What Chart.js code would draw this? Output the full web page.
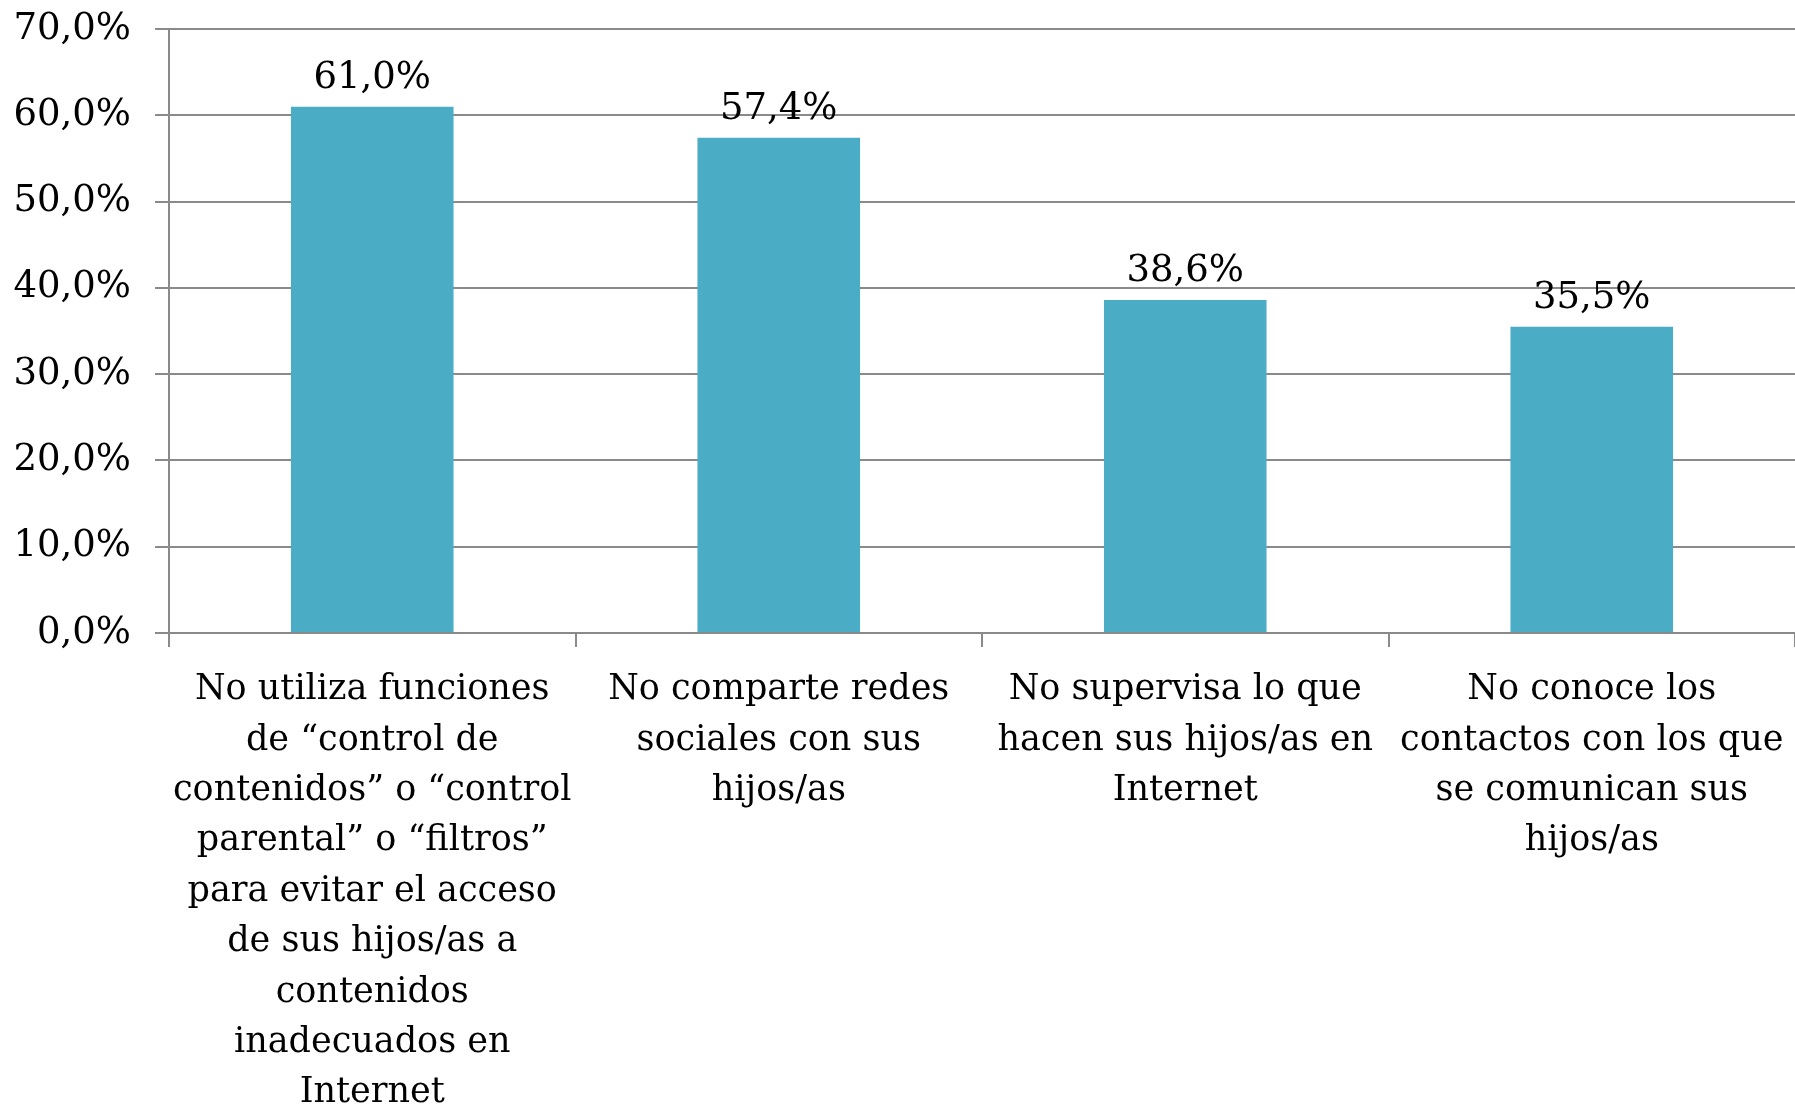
<!DOCTYPE html>
<html>
<head>
<meta charset="utf-8">
<script src="https://cdn.jsdelivr.net/npm/chart.js@4.4.1/dist/chart.umd.min.js"></script>
<style>
    html, body { margin: 0; padding: 0; background: #fff; }
    #chartWrapper { width: 1795px; height: 1106px; }
</style>
</head>
<body>
<div id="chartWrapper"><canvas id="chart" width="1795" height="1106"></canvas></div>
<script>
'use strict';

// Data
const categories = [
    ['No utiliza funciones', 'de “control de', 'contenidos” o “control', 'parental” o “filtros”',
        'para evitar el acceso', 'de sus hijos/as a', 'contenidos', 'inadecuados en', 'Internet'],
    ['No comparte redes', 'sociales con sus', 'hijos/as'],
    ['No supervisa lo que', 'hacen sus hijos/as en', 'Internet'],
    ['No conoce los', 'contactos con los que', 'se comunican sus', 'hijos/as'],
];
const percentValues = [61.0, 57.4, 38.6, 35.5];
const yTickMin = 0;
const yTickMax = 70;
const yTickStep = 10;

const fontFamily = '"DejaVu Serif", serif';
const fontSize = 35;
const numberFontSize = 37;
const gridColor = '#8a8a8a';
const barColor = '#4bacc6';

const formatPercent = function (value) {
    return value.toFixed(1).replace('.', ',') + '%';
};

// Draw the value above each bar
const barValueLabels = {
    id: 'barValueLabels',
    afterDatasetsDraw(chart) {
        const ctx = chart.ctx;
        const meta = chart.getDatasetMeta(0);
        ctx.save();
        ctx.font = `${numberFontSize}px ${fontFamily}`;
        ctx.fillStyle = '#000';
        ctx.textAlign = 'center';
        ctx.textBaseline = 'alphabetic';
        meta.data.forEach((bar, i) => {
            ctx.fillText(formatPercent(percentValues[i]), bar.x, bar.y - 19);
        });
        ctx.restore();
    },
};

Chart.defaults.font.family = fontFamily;
Chart.defaults.font.size = fontSize;
Chart.defaults.color = '#000';

new Chart(document.getElementById('chart'), {
    type: 'bar',
    data: {
        labels: categories,
        datasets: [
            {
                data: percentValues,
                backgroundColor: barColor,
                borderWidth: 0,
                barPercentage: 0.4,
                categoryPercentage: 1,
            },
        ],
    },
    options: {
        responsive: false,
        animation: false,
        devicePixelRatio: 1,
        layout: {
            padding: { top: 29, left: 0, right: -4, bottom: 0 },
        },
        plugins: {
            legend: { display: false },
            tooltip: { enabled: false },
        },
        scales: {
            x: {
                grid: {
                    display: true,
                    drawOnChartArea: false,
                    drawTicks: true,
                    tickLength: 14,
                    color: gridColor,
                    lineWidth: 2,
                },
                border: { display: true, color: gridColor, width: 2 },
                ticks: {
                    padding: 18,
                    maxRotation: 0,
                    autoSkip: false,
                    font: { size: fontSize, lineHeight: 1.44 },
                },
                afterFit: function (scale) {
                    scale.height = 473;
                    scale.paddingRight = -4;
                },
            },
            y: {
                min: yTickMin,
                max: yTickMax,
                grid: {
                    color: gridColor,
                    lineWidth: 2,
                    tickLength: 14,
                },
                border: { display: true, color: gridColor, width: 2 },
                ticks: {
                    stepSize: yTickStep,
                    padding: 24,
                    font: { size: numberFontSize },
                    callback: function (value) {
                        return formatPercent(value);
                    },
                },
                afterFit: function (scale) {
                    scale.width = 169;
                    // keep the plot top on the 70% line position
                    scale.paddingTop = 0;
                    scale.paddingBottom = 0;
                    scale.paddingRight = -4;
                },
            },
        },
    },
    plugins: [barValueLabels],
});
</script>
</body>
</html>
